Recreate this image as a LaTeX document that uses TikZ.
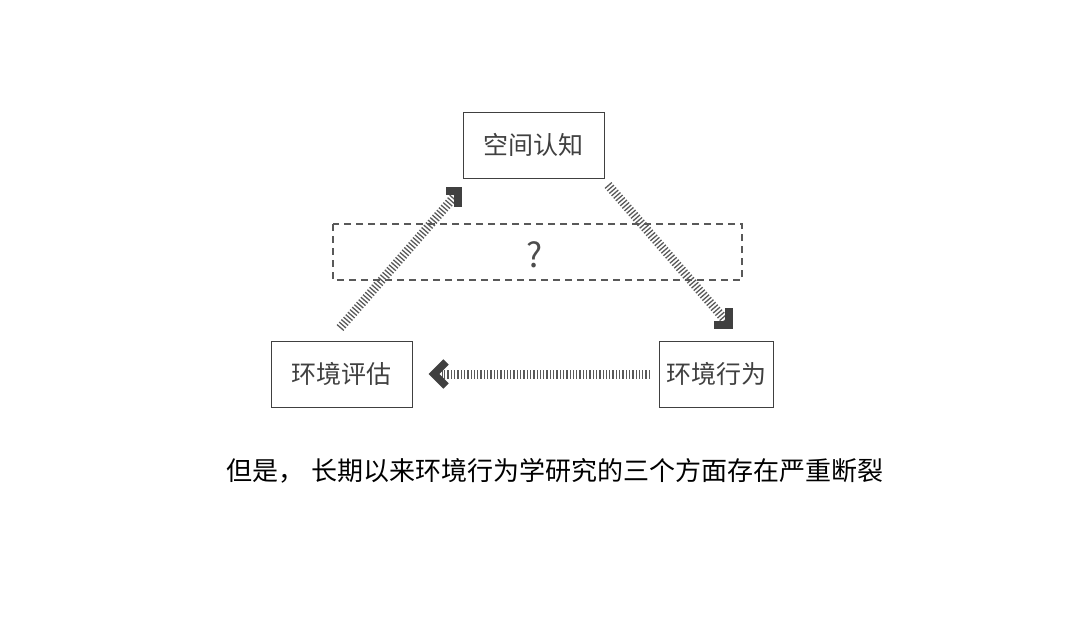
\documentclass[tikz,border=0pt]{standalone}
\usepackage{fontspec}
\setmainfont{Noto Sans CJK SC}
\usetikzlibrary{arrows.meta}
\begin{document}
\begin{tikzpicture}[x=1pt,y=-1pt,
  box/.style={draw=black!75,line width=0.9pt,minimum height=66pt,font=\fontsize{25}{28}\selectfont,text=black!75},
  hatch/.style={draw=black!65,line width=9pt,dash pattern=on 1.3pt off 2pt},
  tip/.style={draw=black!75,line width=7.5pt}]
\useasboundingbox (0,0) rectangle (1080,626);
\node[box,minimum width=141pt] (cog) at (533.5,145) {空间认知};
\node[box,minimum width=141pt] (eva) at (341.5,374) {环境评估};
\node[box,minimum width=114pt] (beh) at (716,374) {环境行为};
\draw[black!65,line width=1.2pt,dash pattern=on 7pt off 5pt] (333,224) rectangle (742,280);
\node[font=\fontsize{34}{36}\selectfont,text=black!70] (q) at (535,255) {?};
\node[font=\fontsize{26}{29}\selectfont] (cap) at (555,471) {但是，\hspace{0.3em}长期以来环境行为学研究的三个方面存在严重断裂};
% striped connectors
\coordinate (a1) at (340,328); \coordinate (a2) at (455,196);
\coordinate (b1) at (608,185); \coordinate (b2) at (726,321);
\coordinate (c1) at (650,374); \coordinate (c2) at (442,374);
\draw[hatch] (a1) -- (a2);
\draw[hatch] (b1) -- (b2);
\draw[hatch] (c1) -- (c2);
% heads
\draw[tip] (446,191) -- (458,191) -- (458,207);
\draw[tip] (729,308) -- (729,325) -- (714,325);
\draw[tip] (446,362) -- (434,374) -- (446,386);
\end{tikzpicture}
\end{document}
